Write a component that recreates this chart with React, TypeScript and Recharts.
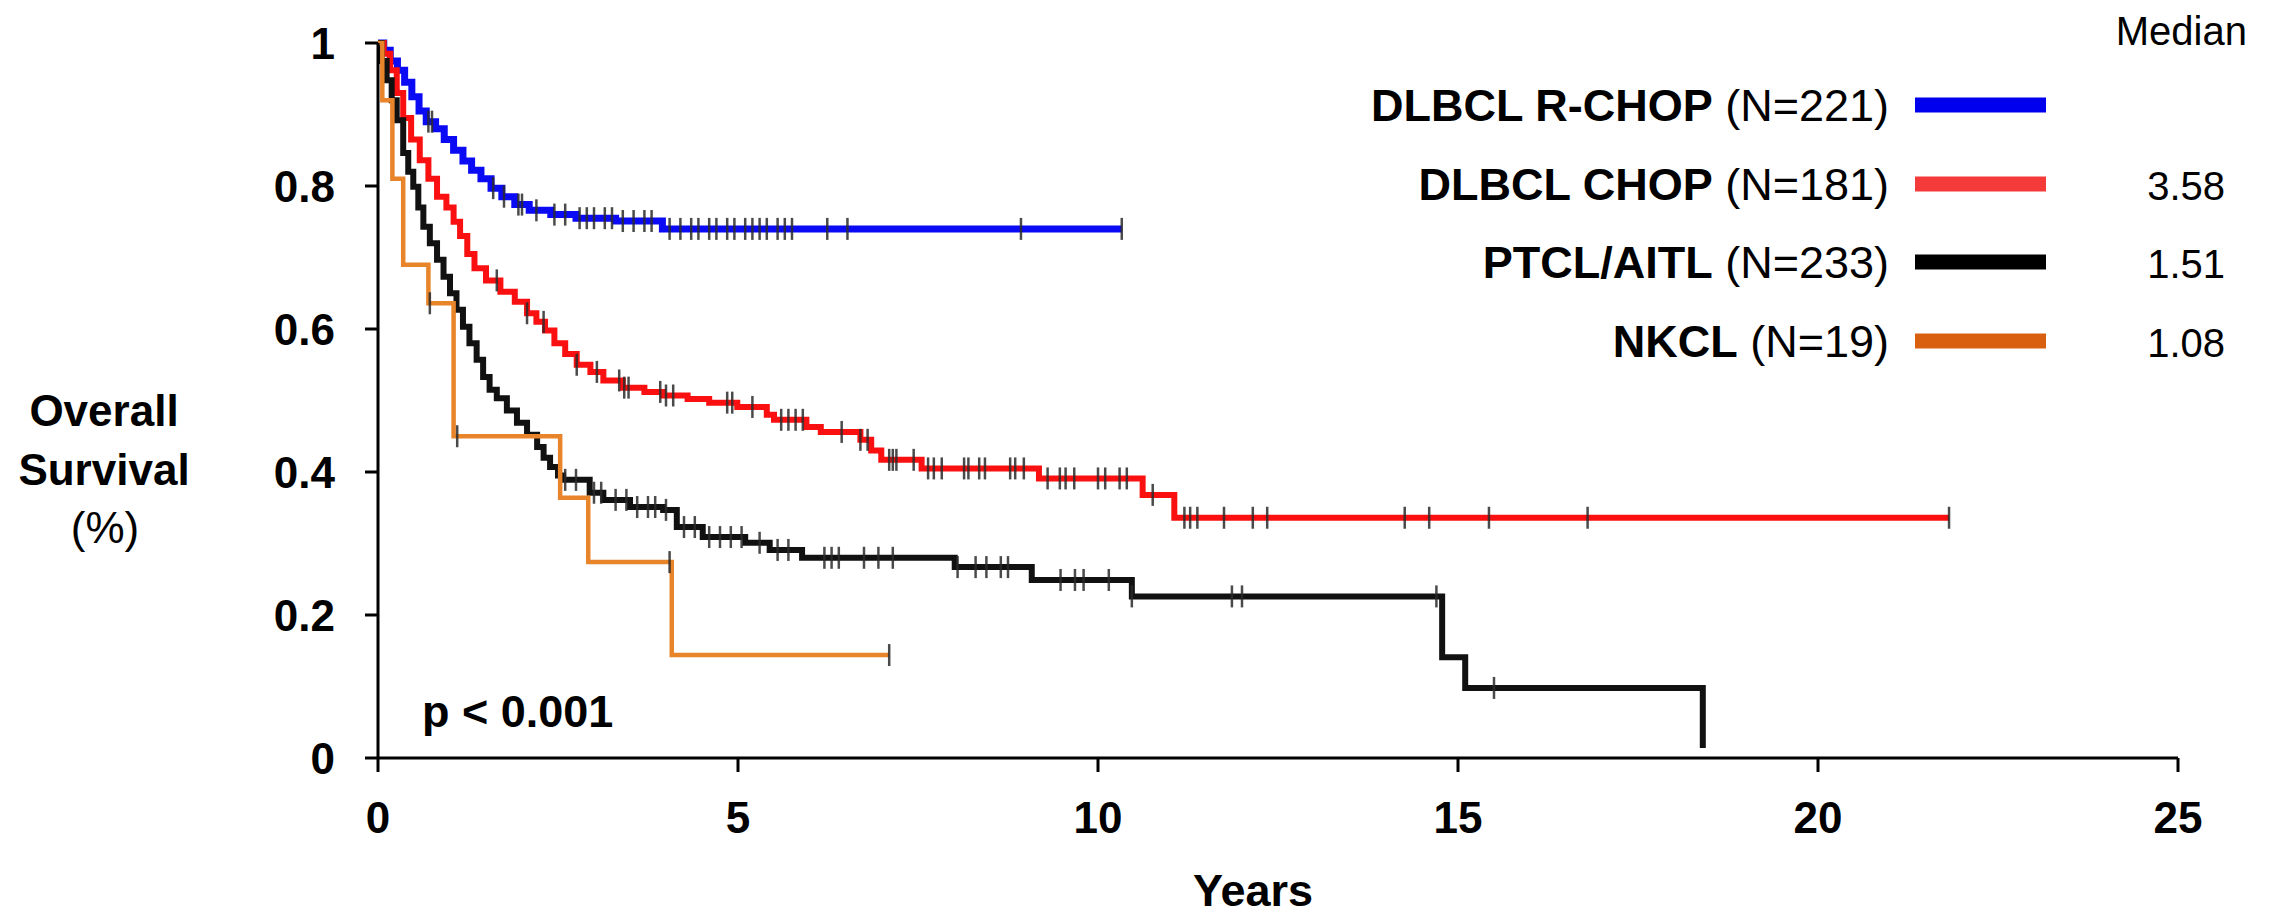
import { LineChart, Line, XAxis, YAxis } from "recharts";

const FONT = "'Liberation Sans', Arial, sans-serif";

const xTicks = [0, 5, 10, 15, 20, 25];
const yTicks = [0, 0.2, 0.4, 0.6, 0.8, 1];

// DLBCL R-CHOP (N=221)
const rchopTimes = [0, 0.08, 0.17, 0.27, 0.37, 0.47, 0.57, 0.67, 0.8, 0.92, 1.05, 1.18, 1.3, 1.43, 1.57, 1.72, 1.9, 2.1, 2.4, 2.75, 3.3, 3.95];
const rchopSurv = [1, 0.99, 0.975, 0.962, 0.945, 0.925, 0.905, 0.89, 0.88, 0.865, 0.85, 0.835, 0.822, 0.81, 0.797, 0.785, 0.774, 0.766, 0.76, 0.755, 0.751, 0.74];
const rchopCensor = [0.7, 0.75, 1.6, 1.75, 1.95, 2.0, 2.2, 2.45, 2.6, 2.8, 2.9, 3.0, 3.15, 3.25, 3.4, 3.55, 3.7, 3.8, 4.05, 4.2, 4.35, 4.45, 4.6, 4.7, 4.85, 4.95, 5.1, 5.2, 5.3, 5.4, 5.55, 5.65, 5.75, 6.24, 6.52, 8.93, 10.33];

// DLBCL CHOP (N=181)
const chopTimes = [0, 0.08, 0.17, 0.26, 0.35, 0.46, 0.58, 0.7, 0.82, 0.95, 1.05, 1.14, 1.24, 1.34, 1.5, 1.7, 1.9, 2.07, 2.2, 2.32, 2.45, 2.6, 2.76, 2.95, 3.13, 3.4, 3.7, 3.96, 4.3, 4.6, 4.99, 5.4, 5.5, 5.95, 6.15, 6.7, 6.85, 6.99, 7.55, 9.18, 10.62, 11.06];
const chopSurv = [1, 0.985, 0.962, 0.93, 0.895, 0.865, 0.836, 0.81, 0.785, 0.77, 0.75, 0.73, 0.705, 0.685, 0.668, 0.652, 0.638, 0.622, 0.61, 0.598, 0.58, 0.565, 0.55, 0.54, 0.528, 0.518, 0.512, 0.507, 0.502, 0.497, 0.491, 0.48, 0.473, 0.463, 0.456, 0.445, 0.43, 0.417, 0.405, 0.391, 0.368, 0.336];
const chopCensor = [1.65, 2.07, 2.3, 2.76, 3.04, 3.35, 3.42, 3.48, 3.92, 4.0, 4.1, 4.85, 4.92, 5.2, 5.6, 5.7, 5.8, 5.9, 6.44, 6.7, 6.8, 7.1, 7.15, 7.2, 7.44, 7.64, 7.72, 7.83, 8.14, 8.2, 8.35, 8.43, 8.78, 8.85, 8.97, 9.3, 9.47, 9.55, 9.67, 10.0, 10.1, 10.3, 10.4, 10.76, 11.2, 11.28, 11.38, 11.75, 12.15, 12.35, 14.26, 14.6, 15.43, 16.8, 21.82];

// PTCL/AITL (N=233)
const ptclTimes = [0, 0.05, 0.12, 0.19, 0.26, 0.35, 0.42, 0.49, 0.56, 0.63, 0.72, 0.82, 0.91, 1.0, 1.09, 1.18, 1.27, 1.37, 1.46, 1.55, 1.65, 1.79, 1.93, 2.07, 2.21, 2.3, 2.39, 2.5, 2.57, 2.94, 3.13, 3.5, 3.96, 4.15, 4.51, 5.1, 5.44, 5.89, 8.01, 9.08, 10.47, 14.78, 15.1, 18.4];
const ptclSurv = [1, 0.975, 0.948, 0.92, 0.892, 0.846, 0.82, 0.799, 0.77, 0.743, 0.72, 0.697, 0.673, 0.65, 0.627, 0.603, 0.58, 0.557, 0.533, 0.515, 0.503, 0.486, 0.469, 0.452, 0.435, 0.42, 0.407, 0.395, 0.389, 0.371, 0.361, 0.351, 0.347, 0.323, 0.309, 0.301, 0.291, 0.28, 0.267, 0.249, 0.226, 0.141, 0.098, 0.014];
const ptclCensor = [2.6, 2.75, 3.0, 3.1, 3.3, 3.45, 3.6, 3.75, 3.85, 4.0, 4.25, 4.4, 4.6, 4.75, 4.9, 5.05, 5.3, 5.55, 5.7, 6.2, 6.3, 6.4, 6.75, 6.95, 7.15, 8.05, 8.3, 8.45, 8.65, 8.75, 9.48, 9.68, 9.8, 10.15, 10.47, 11.86, 12.0, 14.7, 15.5];

// NKCL (N=19)
const nkclTimes = [0, 0.06, 0.2, 0.35, 0.7, 1.05, 2.53, 2.92, 4.08];
const nkclSurv = [1, 0.92, 0.81, 0.69, 0.636, 0.45, 0.364, 0.274, 0.144];
const nkclCensor = [0.72, 1.1, 4.05, 7.1];

const seriesNames = ["DLBCL R-CHOP", "DLBCL CHOP", "PTCL/AITL", "NKCL"];
const seriesN = ["(N=221)", "(N=181)", "(N=233)", "(N=19)"];
const medians = ["", "3.58", "1.51", "1.08"];
const lineColors = ["#0a0af5", "#fa1010", "#111111", "#e8842a"];
const legendColors = ["#0000ee", "#f53a3a", "#000000", "#d9600f"];

type Pt = { t: number; s: number; c: number };

// step points plus censor marks placed at the curve level in force at that time
function buildCurve(times: number[], surv: number[], censor: number[]): Pt[] {
  const pts: Pt[] = times.map((t, i) => ({ t, s: surv[i], c: 0 }));
  censor.forEach((t) => {
    let s = surv[0];
    times.forEach((et, i) => {
      if (et <= t) s = surv[i];
    });
    pts.push({ t, s, c: 1 });
  });
  return pts.sort((a, b) => a.t - b.t || a.c - b.c);
}

const curves = [
  buildCurve(rchopTimes, rchopSurv, rchopCensor),
  buildCurve(chopTimes, chopSurv, chopCensor),
  buildCurve(ptclTimes, ptclSurv, ptclCensor),
  buildCurve(nkclTimes, nkclSurv, nkclCensor),
];
const widths = [7, 6, 6, 4.5];

const censorDot = (props: any) => {
  const { cx, cy, payload, index } = props;
  if (!payload || !payload.c) return <g key={`n-${index}`} />;
  return (
    <line
      key={`c-${index}`}
      x1={cx}
      x2={cx}
      y1={cy - 11}
      y2={cy + 11}
      stroke="#2a2a2a"
      strokeOpacity={0.85}
      strokeWidth={2.5}
    />
  );
};

const legendRows = [121, 200, 278, 357];

export default function App() {
  return (
    <div style={{ position: "absolute", left: 0, top: 0, width: 2292, height: 920, background: "#fff" }}>
      <LineChart width={2292} height={920} margin={{ top: 43, right: 114, bottom: 62, left: 258 }}>
        <XAxis
          type="number"
          dataKey="t"
          domain={[0, 25]}
          ticks={xTicks}
          height={100}
          tickSize={14}
          tickMargin={30}
          axisLine={{ stroke: "#000", strokeWidth: 3 }}
          tickLine={{ stroke: "#000", strokeWidth: 3 }}
          tick={{ fill: "#000", fontSize: 44, fontWeight: 700, fontFamily: FONT }}
          allowDataOverflow
        />
        <YAxis
          type="number"
          dataKey="s"
          domain={[0, 1]}
          ticks={yTicks}
          width={120}
          tickSize={13}
          tickMargin={30}
          axisLine={{ stroke: "#000", strokeWidth: 3 }}
          tickLine={{ stroke: "#000", strokeWidth: 3 }}
          tick={{ fill: "#000", fontSize: 44, fontWeight: 700, fontFamily: FONT }}
          tickFormatter={(v: number) => String(v)}
        />
        {curves.map((d, i) => (
          <Line
            key={seriesNames[i]}
            data={d}
            dataKey="s"
            type="stepAfter"
            stroke={lineColors[i]}
            strokeWidth={widths[i]}
            dot={censorDot}
            activeDot={false}
            isAnimationActive={false}
          />
        ))}
        <text fontFamily={FONT} fontSize={44} fill="#000" textAnchor="middle">
          <tspan x={104} y={426} fontWeight={700}>Overall</tspan>
          <tspan x={104} y={485} fontWeight={700}>Survival</tspan>
          <tspan x={105} y={543}>(%)</tspan>
        </text>
        <text x={422} y={727} fontFamily={FONT} fontSize={45} fontWeight={700} fill="#000">
          p &lt; 0.001
        </text>
        <text x={1253} y={906} fontFamily={FONT} fontSize={45} fontWeight={700} fill="#000" textAnchor="middle">
          Years
        </text>
        <text x={2247} y={45} fontFamily={FONT} fontSize={40} fill="#000" textAnchor="end">
          Median
        </text>
        {seriesNames.map((name, i) => (
          <g key={`leg-${name}`}>
            <text x={1889} y={legendRows[i]} fontFamily={FONT} fontSize={45} fill="#000" textAnchor="end">
              <tspan fontWeight={700}>{name}</tspan>
              <tspan> {seriesN[i]}</tspan>
            </text>
            <line
              x1={1915}
              x2={2046}
              y1={legendRows[i] - 16}
              y2={legendRows[i] - 16}
              stroke={legendColors[i]}
              strokeWidth={15}
            />
            <text x={2225} y={legendRows[i]} fontFamily={FONT} fontSize={40} fill="#000" textAnchor="end">
              {medians[i]}
            </text>
          </g>
        ))}
      </LineChart>
    </div>
  );
}
